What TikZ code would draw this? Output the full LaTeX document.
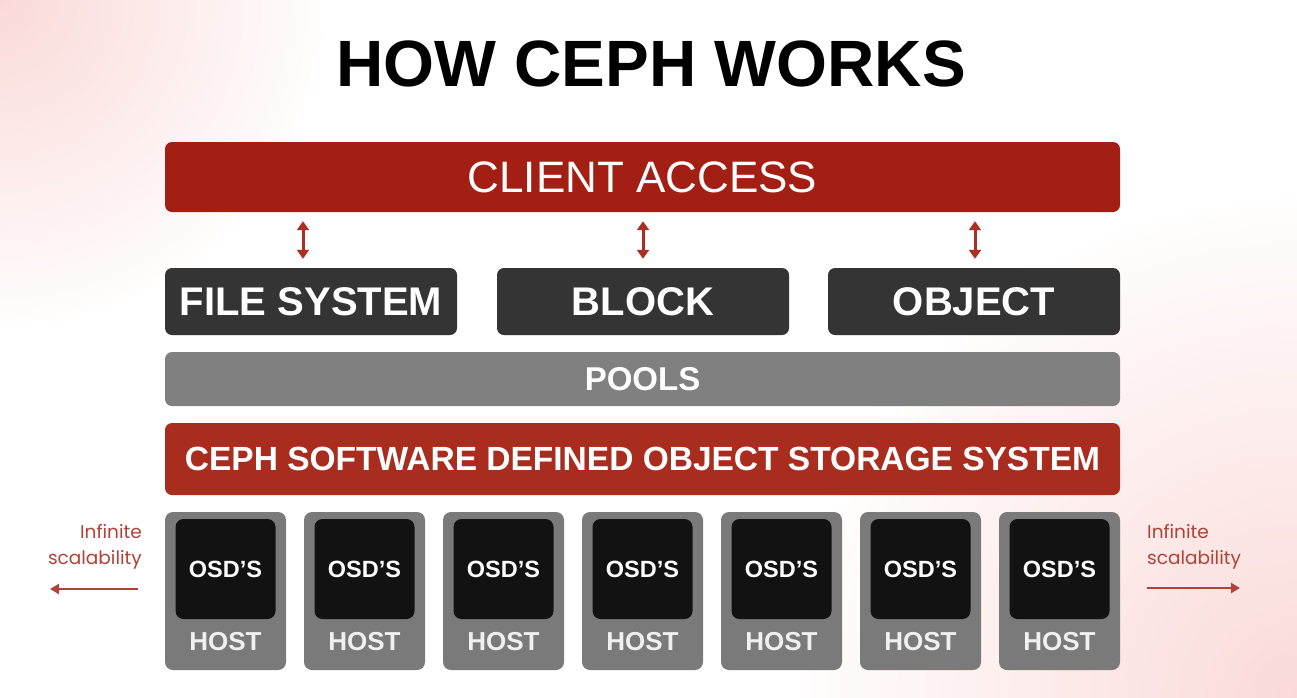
\documentclass[tikz,border=0pt]{standalone}
\usepackage{fontspec}
\setmainfont{Liberation Sans}
\newfontfamily\scalefont{Poppins}
\usetikzlibrary{arrows.meta}
\definecolor{cephred}{RGB}{163,31,20}
\definecolor{cephred2}{RGB}{168,45,31}
\definecolor{arrowred}{RGB}{170,48,36}
\definecolor{labelred}{RGB}{176,66,56}
\definecolor{darkbox}{RGB}{52,52,52}
\definecolor{poolgray}{RGB}{128,128,128}
\definecolor{hostgray}{RGB}{122,122,122}
\definecolor{softpink}{RGB}{250,218,216}
\tikzset{
  bar/.style={rounded corners=7pt, minimum width=955pt, inner sep=0pt, text=white},
  iface/.style={rounded corners=7pt, fill=darkbox, minimum width=292pt, minimum height=67pt,
    inner sep=0pt, text=white, font=\bfseries\fontsize{40}{40}\selectfont},
  biarrow/.style={draw=arrowred, line width=3pt, {Triangle[width=12pt,length=9pt]}-{Triangle[width=12pt,length=9pt]}},
  scalearrow/.style={draw=labelred, line width=2.8pt, -{Triangle[width=10pt,length=9pt]}},
  scaletext/.style={text=labelred, font=\scalefont\fontsize{18.5}{26}\selectfont, inner sep=0pt}
}
\tikzset{
  pics/host/.style={
    code = {
      \node[rounded corners=8pt, fill=hostgray, minimum width=121pt, minimum height=158pt, inner sep=0pt] (-box) at (0,22) {};
      \node[rounded corners=8pt, fill=black!93, minimum width=100pt, minimum height=100pt, inner sep=0pt,
        text=white, font=\bfseries\fontsize{23.5}{23.5}\selectfont] (-osd) at (0,0) {OSD’S};
      \node[text=black!6, inner sep=0pt, font=\bfseries\fontsize{26}{26}\selectfont] (-label) at (0,73) {HOST};
}}}
\begin{document}
\begin{tikzpicture}[x=1pt, y=-1pt]
  \useasboundingbox (0,0) rectangle (1297,697);
  % background
  \fill[white] (0,0) rectangle (1297,697);
  \begin{scope}
    \clip (0,0) rectangle (1297,697);
    \shade[inner color=softpink, outer color=white] (0,0) circle (340);
    \shade[inner color=softpink, outer color=white] (1297,697) circle (520);
  \end{scope}

  \node[inner sep=0pt, font=\bfseries\fontsize{65.5}{65}\selectfont] (title) at (651,64) {HOW CEPH WORKS};

  \node[bar, fill=cephred, minimum height=70pt, font=\fontsize{44}{44}\selectfont] (client) at (642.5,177) {CLIENT ACCESS};
  \node[iface] (fs) at (311,301.5) {FILE SYSTEM};
  \node[iface] (block) at (643,301.5) {BLOCK};
  \node[iface] (object) at (974,301.5) {OBJECT};
  \node[bar, fill=poolgray, minimum height=54pt, font=\bfseries\fontsize{33}{33}\selectfont] (pools) at (642.5,379) {POOLS};
  \node[bar, fill=cephred2, minimum height=72pt, font=\bfseries\fontsize{33.5}{33.5}\selectfont] (ceph) at (642.5,459) {CEPH SOFTWARE DEFINED OBJECT STORAGE SYSTEM};

  \draw[biarrow, shorten <=9pt, shorten >=9pt] ([xshift=-8pt]fs.north) -- ([xshift=-8pt]fs.north |- client.south);
  \draw[biarrow, shorten <=9pt, shorten >=9pt] (block.north) -- (block.north |- client.south);
  \draw[biarrow, shorten <=9pt, shorten >=9pt] ([xshift=1pt]object.north) -- ([xshift=1pt]object.north |- client.south);

  \pic (host1) at (225.5,569) {host};
  \pic (host2) at (364.5,569) {host};
  \pic (host3) at (503.5,569) {host};
  \pic (host4) at (642.5,569) {host};
  \pic (host5) at (781.5,569) {host};
  \pic (host6) at (920.5,569) {host};
  \pic (host7) at (1059.5,569) {host};

  \node[scaletext, align=right, anchor=north east] (leftscale) at (142,524) {Infinite\\scalability};
  \node[scaletext, align=left, anchor=north west] (rightscale) at (1147,524) {Infinite\\scalability};
  \coordinate (leftend) at (50,589);
  \coordinate (rightend) at (1240,588);
  \draw[scalearrow] ([xshift=-4pt]leftend -| leftscale.east) -- (leftend);
  \draw[scalearrow] (rightend -| rightscale.west) -- (rightend);
\end{tikzpicture}
\end{document}
